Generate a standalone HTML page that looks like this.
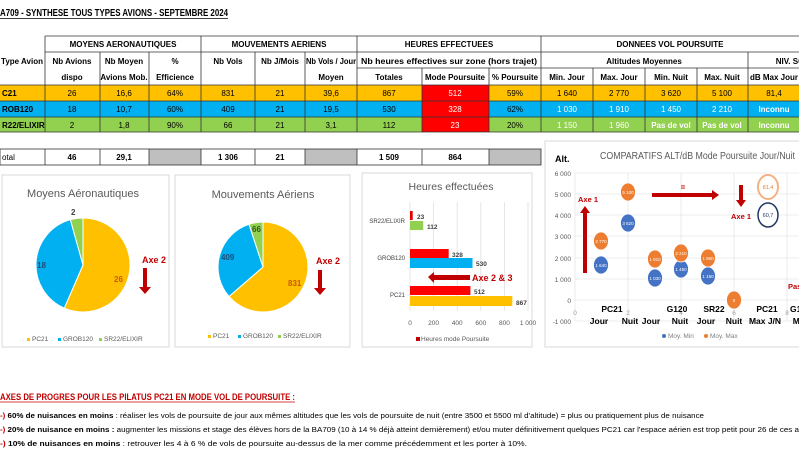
<!DOCTYPE html>
<html><head><meta charset="utf-8"><style>
html,body{margin:0;padding:0;background:#fff;}
svg{display:block;font-family:"Liberation Sans",sans-serif;}
</style></head><body>
<svg width="799" height="450" viewBox="0 0 799 450" xmlns="http://www.w3.org/2000/svg">
<rect width="799" height="450" fill="#fff"/>
<text x="0" y="16" font-size="10.5" font-weight="bold" fill="#000" textLength="228" lengthAdjust="spacingAndGlyphs">A709 - SYNTHESE TOUS TYPES AVIONS - SEPTEMBRE 2024</text>
<line x1="0" y1="18.5" x2="228" y2="18.5" stroke="#000" stroke-width="0.8"/>

<rect x="0" y="85" width="799" height="16" fill="#ffc000"/>
<rect x="0" y="101" width="799" height="16" fill="#00b0f0"/>
<rect x="0" y="117" width="799" height="15" fill="#92d050"/>
<rect x="422" y="85" width="67" height="47" fill="#ff0000"/>
<rect x="149" y="149" width="52" height="16" fill="#bfbfbf"/>
<rect x="305" y="149" width="52" height="16" fill="#bfbfbf"/>
<rect x="489" y="149" width="52" height="16" fill="#bfbfbf"/>

<g stroke="#333" stroke-width="0.8" fill="none">
<line x1="45" y1="36" x2="799" y2="36"/>
<line x1="45" y1="52" x2="799" y2="52"/>
<line x1="357" y1="68" x2="799" y2="68"/>
<line x1="0" y1="85" x2="799" y2="85"/>
<line x1="0" y1="101" x2="799" y2="101"/>
<line x1="0" y1="117" x2="799" y2="117"/>
<line x1="0" y1="132" x2="799" y2="132"/>
<line x1="45" y1="36" x2="45" y2="132"/>
<line x1="201" y1="36" x2="201" y2="132"/>
<line x1="357" y1="36" x2="357" y2="132"/>
<line x1="541" y1="36" x2="541" y2="132"/>
<line x1="748" y1="52" x2="748" y2="132"/>
<line x1="100" y1="52" x2="100" y2="132"/>
<line x1="149" y1="52" x2="149" y2="132"/>
<line x1="255" y1="52" x2="255" y2="132"/>
<line x1="305" y1="52" x2="305" y2="132"/>
<line x1="422" y1="68" x2="422" y2="132"/>
<line x1="489" y1="68" x2="489" y2="132"/>
<line x1="593" y1="68" x2="593" y2="132"/>
<line x1="645" y1="68" x2="645" y2="132"/>
<line x1="697" y1="68" x2="697" y2="132"/>
<rect x="0" y="149" width="541" height="16"/>
<line x1="45" y1="149" x2="45" y2="165"/><line x1="100" y1="149" x2="100" y2="165"/>
<line x1="149" y1="149" x2="149" y2="165"/><line x1="201" y1="149" x2="201" y2="165"/>
<line x1="255" y1="149" x2="255" y2="165"/><line x1="305" y1="149" x2="305" y2="165"/>
<line x1="357" y1="149" x2="357" y2="165"/><line x1="422" y1="149" x2="422" y2="165"/>
<line x1="489" y1="149" x2="489" y2="165"/>
</g>

<g font-size="8" font-weight="bold" text-anchor="middle" fill="#000">
<text x="123" y="47">MOYENS AERONAUTIQUES</text>
<text x="279" y="47">MOUVEMENTS AERIENS</text>
<text x="449" y="47">HEURES EFFECTUEES</text>
<text x="670" y="47">DONNEES VOL POURSUITE</text>
<text x="22" y="64">Type Avion</text>
<text x="72" y="64">Nb Avions</text><text x="72" y="80">dispo</text>
<text x="124" y="64">Nb Moyen</text><text x="124" y="80">Avions Mob.</text>
<text x="175" y="64">%</text><text x="175" y="80">Efficience</text>
<text x="228" y="64">Nb Vols</text>
<text x="280" y="64">Nb J/Mois</text>
<text x="331" y="64" textLength="50" lengthAdjust="spacingAndGlyphs">Nb Vols / Jour</text><text x="331" y="80">Moyen</text>
<text x="449" y="64" textLength="176" lengthAdjust="spacingAndGlyphs">Nb heures effectives sur zone (hors trajet)</text>
<text x="644" y="64">Altitudes Moyennes</text>
<text x="790" y="64">NIV. SO</text>
<text x="389" y="80">Totales</text>
<text x="455" y="80">Mode Poursuite</text>
<text x="515" y="80">% Poursuite</text>
<text x="567" y="80">Min. Jour</text>
<text x="619" y="80">Max. Jour</text>
<text x="671" y="80">Min. Nuit</text>
<text x="722" y="80">Max. Nuit</text>
<text x="774" y="80">dB Max Jour</text>
</g>
<g font-size="8" text-anchor="middle" fill="#000">
<text x="2" y="96" text-anchor="start" font-weight="bold">C21</text>
<text x="72" y="96">26</text><text x="124" y="96">16,6</text><text x="175" y="96">64%</text><text x="228" y="96">831</text><text x="280" y="96">21</text><text x="331" y="96">39,6</text><text x="389" y="96">867</text><text x="455" y="96" fill="#fff">512</text><text x="515" y="96">59%</text><text x="567" y="96">1 640</text><text x="619" y="96">2 770</text><text x="671" y="96">3 620</text><text x="722" y="96">5 100</text><text x="774" y="96">81,4</text>
<text x="2" y="112" text-anchor="start" font-weight="bold">ROB120</text>
<text x="72" y="112">18</text><text x="124" y="112">10,7</text><text x="175" y="112">60%</text><text x="228" y="112">409</text><text x="280" y="112">21</text><text x="331" y="112">19,5</text><text x="389" y="112">530</text><text x="455" y="112" fill="#fff">328</text><text x="515" y="112">62%</text><g fill="#fff"><text x="567" y="112">1 030</text><text x="619" y="112">1 910</text><text x="671" y="112">1 450</text><text x="722" y="112">2 210</text><text x="774" y="112" font-weight="bold">Inconnu</text></g>
<text x="2" y="128" text-anchor="start" font-weight="bold">R22/ELIXIR</text>
<text x="72" y="128">2</text><text x="124" y="128">1,8</text><text x="175" y="128">90%</text><text x="228" y="128">66</text><text x="280" y="128">21</text><text x="331" y="128">3,1</text><text x="389" y="128">112</text><text x="455" y="128" fill="#fff">23</text><text x="515" y="128">20%</text><g fill="#fff"><text x="567" y="128">1 150</text><text x="619" y="128">1 960</text><text x="671" y="128" font-weight="bold">Pas de vol</text><text x="722" y="128" font-weight="bold">Pas de vol</text><text x="774" y="128" font-weight="bold">Inconnu</text></g>
</g>
<g font-size="8" font-weight="bold" text-anchor="middle">
<text x="2" y="160" text-anchor="start" font-weight="normal">otal</text>
<text x="72" y="160">46</text><text x="124" y="160">29,1</text><text x="228" y="160">1 306</text><text x="280" y="160">21</text><text x="389" y="160">1 509</text><text x="455" y="160">864</text>
</g>

<g fill="none" stroke="#d9d9d9" stroke-width="1">
<rect x="2" y="175" width="167" height="172"/>
<rect x="175" y="175" width="175" height="172"/>
<rect x="362" y="173" width="170" height="174"/>
<rect x="545" y="141" width="260" height="206"/>
</g>

<text x="83" y="197" font-size="11" text-anchor="middle" fill="#595959">Moyens Aéronautiques</text>
<g stroke="#fff" stroke-width="1">
<path d="M83,265 L83,218 A47,47 0 1 1 64.3,308.1 Z" fill="#ffc000"/>
<path d="M83,265 L64.3,308.1 A47,47 0 0 1 70.4,219.7 Z" fill="#00b0f0"/>
<path d="M83,265 L70.4,219.7 A47,47 0 0 1 83,218 Z" fill="#92d050"/>
</g>
<g font-size="8" font-weight="bold">
<text x="71" y="215" fill="#404040">2</text>
<text x="37" y="268" fill="#1f4e79">18</text>
<text x="114" y="282" fill="#c55a11">26</text>
</g>
<text x="142" y="263" font-size="9" font-weight="bold" fill="#c00000">Axe 2</text>
<path d="M143,268 L143,287 L139,287 L145,294 L151,287 L147,287 L147,268 Z" fill="#c00000"/>
<g font-size="6.5" fill="#595959">
<rect x="27" y="338" width="3" height="3" fill="#ffc000"/><text x="32" y="341">PC21</text>
<rect x="58" y="338" width="3" height="3" fill="#00b0f0"/><text x="63" y="341">GROB120</text>
<rect x="99" y="338" width="3" height="3" fill="#92d050"/><text x="104" y="341">SR22/ELIXIR</text>
</g>

<text x="263" y="198" font-size="11" text-anchor="middle" fill="#595959">Mouvements Aériens</text>
<g stroke="#fff" stroke-width="1">
<path d="M263,267 L263,222 A45,45 0 1 1 229,296.5 Z" fill="#ffc000"/>
<path d="M263,267 L229,296.5 A45,45 0 0 1 249,224.3 Z" fill="#00b0f0"/>
<path d="M263,267 L249,224.3 A45,45 0 0 1 263,222 Z" fill="#92d050"/>
</g>
<g font-size="8" font-weight="bold">
<text x="252" y="232" fill="#375623">66</text>
<text x="221" y="260" fill="#1f4e79">409</text>
<text x="288" y="286" fill="#c55a11">831</text>
</g>
<text x="316" y="264" font-size="9" font-weight="bold" fill="#c00000">Axe 2</text>
<path d="M318,270 L318,288 L314,288 L320,295 L326,288 L322,288 L322,270 Z" fill="#c00000"/>
<g font-size="6.5" fill="#595959">
<rect x="208" y="335" width="3" height="3" fill="#ffc000"/><text x="213" y="338">PC21</text>
<rect x="238" y="335" width="3" height="3" fill="#00b0f0"/><text x="243" y="338">GROB120</text>
<rect x="278" y="335" width="3" height="3" fill="#92d050"/><text x="283" y="338">SR22/ELIXIR</text>
</g>

<text x="451" y="190" font-size="10.5" text-anchor="middle" fill="#595959">Heures effectuées</text>
<g stroke="#e0e0e0" stroke-width="0.8">
<line x1="410" y1="202" x2="410" y2="311"/><line x1="433.6" y1="202" x2="433.6" y2="311"/>
<line x1="457.2" y1="202" x2="457.2" y2="311"/><line x1="480.8" y1="202" x2="480.8" y2="311"/>
<line x1="504.4" y1="202" x2="504.4" y2="311"/><line x1="528" y1="202" x2="528" y2="311"/>
</g>
<rect x="410" y="211" width="2.7" height="9" fill="#e00000"/>
<rect x="410" y="221" width="13.2" height="9" fill="#92d050"/>
<rect x="410" y="249" width="38.7" height="9" fill="#ff0000"/>
<rect x="410" y="258" width="62.5" height="10" fill="#00b0f0"/>
<rect x="410" y="286" width="60.4" height="9" fill="#ff0000"/>
<rect x="410" y="296" width="102.3" height="10" fill="#ffc000"/>
<g font-size="6.5" font-weight="bold" fill="#404040">
<text x="417" y="219">23</text><text x="427" y="229">112</text>
<text x="452" y="257">328</text><text x="476" y="266">530</text>
<text x="474" y="294">512</text><text x="516" y="305">867</text>
</g>
<g font-size="6" fill="#404040" text-anchor="end">
<text x="405" y="223">SR22/ELIXIR</text><text x="405" y="260">GROB120</text><text x="405" y="297">PC21</text>
</g>
<path d="M428,277 L434,272 L434,275 L470,275 L470,280 L434,280 L434,283 Z" fill="#c00000"/>
<text x="472" y="281" font-size="9" font-weight="bold" fill="#c00000">Axe 2 &amp; 3</text>
<g font-size="6.5" fill="#595959" text-anchor="middle">
<text x="410" y="325">0</text><text x="433.6" y="325">200</text><text x="457.2" y="325">400</text><text x="480.8" y="325">600</text><text x="504.4" y="325">800</text><text x="528" y="325">1 000</text>
</g>
<rect x="416" y="337" width="4" height="4" fill="#c00000"/>
<text x="421" y="341" font-size="6.5" fill="#595959">Heures mode Poursuite</text>

<text x="555" y="162" font-size="9" font-weight="bold" fill="#000">Alt.</text>
<text x="600" y="159" font-size="10.5" fill="#595959" textLength="195" lengthAdjust="spacingAndGlyphs">COMPARATIFS ALT/dB Mode Poursuite Jour/Nuit</text>
<g stroke="#e6e6e6" stroke-width="0.8">
<line x1="575" y1="173" x2="575" y2="321"/><line x1="628" y1="173" x2="628" y2="321"/><line x1="681" y1="173" x2="681" y2="321"/><line x1="734" y1="173" x2="734" y2="321"/><line x1="787" y1="173" x2="787" y2="321"/>
<line x1="575" y1="173" x2="799" y2="173"/><line x1="575" y1="194" x2="799" y2="194"/><line x1="575" y1="215" x2="799" y2="215"/><line x1="575" y1="236" x2="799" y2="236"/><line x1="575" y1="258" x2="799" y2="258"/><line x1="575" y1="279" x2="799" y2="279"/><line x1="575" y1="300" x2="799" y2="300"/><line x1="575" y1="321" x2="799" y2="321"/>
</g>
<g font-size="6.5" fill="#595959" text-anchor="end">
<text x="571" y="176">6 000</text><text x="571" y="197">5 000</text><text x="571" y="218">4 000</text><text x="571" y="239">3 000</text><text x="571" y="261">2 000</text><text x="571" y="282">1 000</text><text x="571" y="303">0</text><text x="571" y="324">-1 000</text>
</g>
<g font-size="6.5" fill="#a0a0a0" text-anchor="middle">
<text x="575" y="315">0</text><text x="628" y="315">2</text><text x="681" y="315">4</text><text x="734" y="315">6</text><text x="787" y="315">8</text>
</g>
<g stroke="#fff" stroke-width="0.8">
<ellipse cx="601" cy="241" rx="7.5" ry="9" fill="#ed7d31"/>
<ellipse cx="601" cy="265" rx="7.5" ry="9" fill="#4472c4"/>
<ellipse cx="628" cy="192" rx="7.5" ry="9" fill="#ed7d31"/>
<ellipse cx="628" cy="223" rx="7.5" ry="9" fill="#4472c4"/>
<ellipse cx="655" cy="259" rx="7.5" ry="9" fill="#ed7d31"/>
<ellipse cx="655" cy="278" rx="7.5" ry="9" fill="#4472c4"/>
<ellipse cx="681" cy="269" rx="7.5" ry="9" fill="#4472c4"/>
<ellipse cx="681" cy="253" rx="7.5" ry="9" fill="#ed7d31"/>
<ellipse cx="708" cy="276" rx="7.5" ry="9" fill="#4472c4"/>
<ellipse cx="708" cy="258" rx="7.5" ry="9" fill="#ed7d31"/>
<ellipse cx="734" cy="300" rx="7.5" ry="9" fill="#ed7d31"/>
</g>
<g font-size="4.5" fill="#fff" text-anchor="middle">
<text x="601" y="243">2 770</text><text x="601" y="267">1 640</text><text x="628" y="194">5 100</text><text x="628" y="225">3 620</text>
<text x="655" y="261">1 910</text><text x="655" y="280">1 030</text><text x="681" y="271">1 450</text><text x="681" y="255">2 210</text>
<text x="708" y="278">1 150</text><text x="708" y="260">1 960</text><text x="734" y="302">0</text>
</g>
<ellipse cx="768" cy="187" rx="10" ry="12" fill="#fff" stroke="#f4b183" stroke-width="2"/>
<ellipse cx="768" cy="215" rx="10" ry="12" fill="#fff" stroke="#203864" stroke-width="1.5"/>
<text x="768" y="189" font-size="5.5" fill="#ed7d31" text-anchor="middle">81,4</text>
<text x="768" y="217" font-size="5.5" fill="#203864" text-anchor="middle">60,7</text>
<path d="M583,273 L583,213 L580,213 L585,206 L590,213 L587,213 L587,273 Z" fill="#c00000"/>
<text x="578" y="202" font-size="7.5" font-weight="bold" fill="#c00000">Axe 1</text>
<path d="M652,193 L712,193 L712,190 L719,195 L712,200 L712,197 L652,197 Z" fill="#c00000"/>
<text x="683" y="190" font-size="8" font-weight="bold" fill="#c00000" text-anchor="middle">=</text>
<path d="M739,185 L739,200 L736,200 L741,207 L746,200 L743,200 L743,185 Z" fill="#c00000"/>
<text x="731" y="219" font-size="7.5" font-weight="bold" fill="#c00000">Axe 1</text>
<text x="788" y="289" font-size="7.5" font-weight="bold" fill="#c00000">Pas</text>
<g font-size="8.5" font-weight="bold" fill="#000" text-anchor="middle">
<text x="612" y="312">PC21</text><text x="599" y="324">Jour</text><text x="630" y="324">Nuit</text>
<text x="677" y="312">G120</text><text x="651" y="324">Jour</text><text x="680" y="324">Nuit</text>
<text x="714" y="312">SR22</text><text x="706" y="324">Jour</text><text x="734" y="324">Nuit</text>
<text x="767" y="312">PC21</text><text x="765" y="324">Max J/N</text>
<text x="798" y="312">G12</text><text x="801" y="324">Max</text>
</g>
<g font-size="6.5" fill="#808080">
<circle cx="664" cy="336" r="2" fill="#4472c4"/><text x="668" y="338">Moy. Min</text>
<circle cx="706" cy="336" r="2" fill="#ed7d31"/><text x="710" y="338">Moy. Max</text>
</g>

<text x="0" y="400" font-size="9.5" font-weight="bold" fill="#c00000" textLength="295" lengthAdjust="spacingAndGlyphs">AXES DE PROGRES POUR LES PILATUS PC21 EN MODE VOL DE POURSUITE :</text>
<line x1="0" y1="402" x2="295" y2="402" stroke="#c00000" stroke-width="0.8"/>
<g font-size="7" fill="#000">
<text x="0" y="418" textLength="704" lengthAdjust="spacingAndGlyphs"><tspan fill="#c00000" font-weight="bold">-) </tspan><tspan font-weight="bold">60% de nuisances en moins</tspan> : réaliser les vols de poursuite de jour aux mêmes altitudes que les vols de poursuite de nuit (entre 3500 et 5500 ml d'altitude) = plus ou pratiquement plus de nuisance</text>
<text x="0" y="432" textLength="799" lengthAdjust="spacingAndGlyphs"><tspan fill="#c00000" font-weight="bold">-) </tspan><tspan font-weight="bold">20% de nuisance en moins :</tspan> augmenter les missions et stage des élèves hors de la BA709 (10 à 14 % déjà atteint dernièrement) et/ou muter définitivement quelques PC21 car l'espace aérien est trop petit pour 26 de ces a</text>
<text x="0" y="446" textLength="527" lengthAdjust="spacingAndGlyphs"><tspan fill="#c00000" font-weight="bold">-) </tspan><tspan font-weight="bold">10% de nuisances en moins</tspan> : retrouver les 4 à 6 % de vols de poursuite au-dessus de la mer comme précédemment et les porter à 10%.</text>
</g>
</svg>
</body></html>
